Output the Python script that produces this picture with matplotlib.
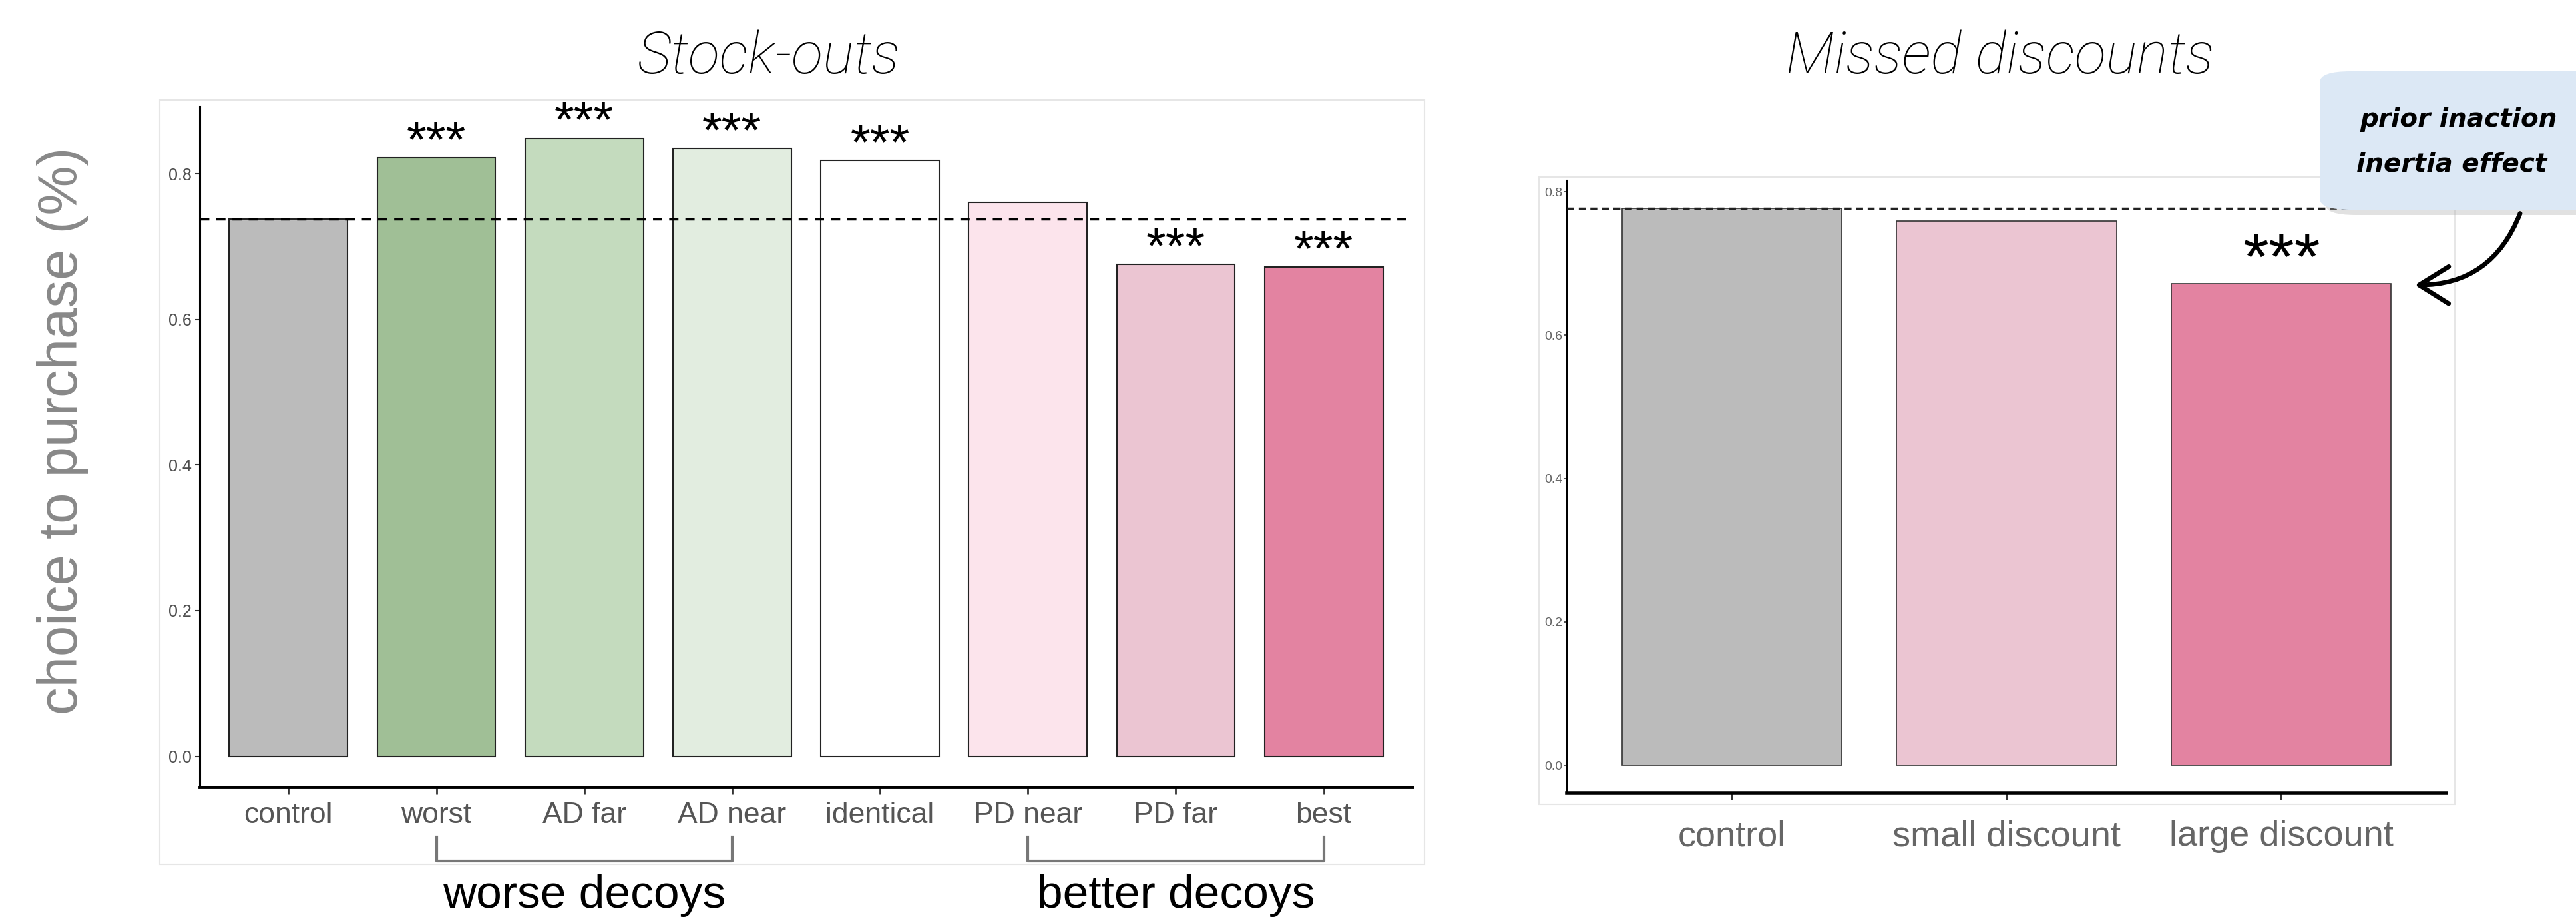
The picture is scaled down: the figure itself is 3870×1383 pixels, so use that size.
import numpy as np
import matplotlib.pyplot as plt
from matplotlib.patches import Rectangle, FancyBboxPatch, FancyArrowPatch
import matplotlib.transforms as mtransforms

plt.rcParams['font.family'] = ['Liberation Sans', 'DejaVu Sans']

# data
stock_labels = ['control', 'worst', 'AD far', 'AD near', 'identical', 'PD near', 'PD far', 'best']
stock_values = [0.738, 0.822, 0.849, 0.835, 0.818, 0.761, 0.676, 0.672]
stock_sig = ['', '***', '***', '***', '***', '', '***', '***']
stock_colors = ['#BBBBBB', '#A0BF96', '#C4DBBE', '#E2EDE0', '#FFFFFF', '#FCE4EC', '#EBC5D2', '#E383A1']
stock_baseline = 0.738

discount_labels = ['control', 'small discount', 'large discount']
discount_values = [0.777, 0.759, 0.672]
discount_sig = ['', '', '***']
discount_colors = ['#BBBBBB', '#EBC5D2', '#E383A1']
discount_baseline = 0.777

W, H = 3870, 1383
fig = plt.figure(figsize=(W / 100, H / 100), dpi=100)


def fx(px):
    return px / W


def fy(py):
    return 1 - py / H


# light panel frames (ggplot plot background border)
fig.patches.append(Rectangle((fx(240), fy(1298)), fx(1900), (1298 - 150) / H,
                             transform=fig.transFigure, fill=False, ec='#E6E6E6', lw=1.5))
fig.patches.append(Rectangle((fx(2312), fy(1208)), fx(1376), (1208 - 266) / H,
                             transform=fig.transFigure, fill=False, ec='#E6E6E6', lw=1.5))

# ---- Stock-outs ----
ax1 = fig.add_axes([fx(300), fy(1182), fx(1822), (1182 - 160) / H])
x1 = np.arange(1, len(stock_labels) + 1)
ax1.bar(x1, stock_values, width=0.8, color=stock_colors, edgecolor='#222222', linewidth=1.5, zorder=2)
ax1.axhline(stock_baseline, color='black', ls=(0, (4, 3)), lw=2.5, zorder=3)
for xi, v, s in zip(x1, stock_values, stock_sig):
    if s:
        ax1.text(xi, v - 0.012, s, ha='center', va='bottom', fontsize=55, color='black')
ax1.set_xlim(0.4, len(stock_labels) + 0.6)
ax1.set_ylim(-0.0425, 0.8925)
ax1.set_xticks(x1)
ax1.set_xticklabels(stock_labels)
ax1.set_yticks([0, 0.2, 0.4, 0.6, 0.8])
ax1.set_yticklabels(['0.0', '0.2', '0.4', '0.6', '0.8'])
ax1.tick_params(axis='x', length=8, width=2, color='#333333', labelsize=32, labelcolor='#555555', pad=8)
ax1.tick_params(axis='y', length=5, width=1.5, color='#333333', labelsize=18, labelcolor='#4D4D4D', pad=4)
for sp in ['top', 'right']:
    ax1.spines[sp].set_visible(False)
ax1.spines['bottom'].set_linewidth(3.5)
ax1.spines['left'].set_linewidth(2.2)
ax1.patch.set_alpha(0)

# brackets for decoy groups
tr = mtransforms.blended_transform_factory(ax1.transData, fig.transFigure)
for a, b, lab in [(2, 4, 'worse decoys'), (6, 8, 'better decoys')]:
    ax1.plot([a, a, b, b], [fy(1257), fy(1293), fy(1293), fy(1257)], color='#777777', lw=3,
             transform=tr, clip_on=False)
    ax1.text((a + b) / 2, fy(1345), lab, transform=tr, ha='center', va='center', fontsize=50, color='black')

fig.text(fx(1155), fy(86), 'Stock-outs', ha='center', va='center', fontsize=63, style='italic',
         fontfamily=['Roboto', 'DejaVu Sans'], fontweight='light')
fig.text(fx(94), fy(647), 'choice to purchase (%)', rotation=90, ha='center', va='center',
         fontsize=60, color='#888888')

# ---- Missed discounts ----
ax2 = fig.add_axes([fx(2354), fy(1191), fx(1321), (1191 - 271) / H])
x2 = np.arange(1, len(discount_labels) + 1)
ax2.bar(x2, discount_values, width=0.8, color=discount_colors, edgecolor='#333333', linewidth=1.2, zorder=2)
ax2.axhline(discount_baseline, color='#222222', ls=(0, (3, 2)), lw=2.5, zorder=3)
for xi, v, s in zip(x2, discount_values, discount_sig):
    if s:
        ax2.text(xi, v - 0.014, s, ha='center', va='bottom', fontsize=72, color='black')
ax2.set_xlim(0.4, len(discount_labels) + 0.6)
ax2.set_ylim(-0.039, 0.816)
ax2.set_xticks(x2)
ax2.set_xticklabels(discount_labels)
ax2.set_yticks([0, 0.2, 0.4, 0.6, 0.8])
ax2.set_yticklabels(['0.0', '0.2', '0.4', '0.6', '0.8'])
ax2.tick_params(axis='x', length=7, width=1.5, color='#333333', labelsize=39, labelcolor='#666666', pad=22)
ax2.tick_params(axis='y', length=3, width=1.2, color='#333333', labelsize=14, labelcolor='#666666', pad=2)
for sp in ['top', 'right']:
    ax2.spines[sp].set_visible(False)
ax2.spines['bottom'].set_linewidth(4)
ax2.spines['left'].set_linewidth(1.5)
ax2.patch.set_alpha(0)

fig.text(fx(3004), fy(86), 'Missed discounts', ha='center', va='center', fontsize=63, style='italic',
         fontfamily=['Roboto', 'DejaVu Sans'], fontweight='light')

# callout box with arrow
fig.patches.append(FancyBboxPatch((fx(3493), fy(323)), fx(500), (315 - 107) / H,
                                  boxstyle='round,pad=0,rounding_size=0.012', transform=fig.transFigure,
                                  fc='#AAAAAA', ec='none', alpha=0.35, zorder=4))
fig.patches.append(FancyBboxPatch((fx(3485), fy(315)), fx(500), (315 - 107) / H,
                                  boxstyle='round,pad=0,rounding_size=0.012', transform=fig.transFigure,
                                  fc='#DCE8F5', ec='none', zorder=5))
fig.text(fx(3545), fy(179), 'prior inaction', fontsize=28, fontweight='bold', style='italic',
         va='center', ha='left', zorder=6, fontfamily=['DejaVu Sans'])
fig.text(fx(3540), fy(246), 'inertia effect', fontsize=28, fontweight='bold', style='italic',
         va='center', ha='left', zorder=6, fontfamily=['DejaVu Sans'])
arrow = FancyArrowPatch((fx(3787), fy(318)), (fx(3625), fy(428)), transform=fig.transFigure,
                        connectionstyle='arc3,rad=-0.35', arrowstyle='->,head_length=1.6,head_width=1.0',
                        mutation_scale=20, lw=5, color='black', zorder=6)
fig.patches.append(arrow)

plt.savefig('out.png', dpi=100)
